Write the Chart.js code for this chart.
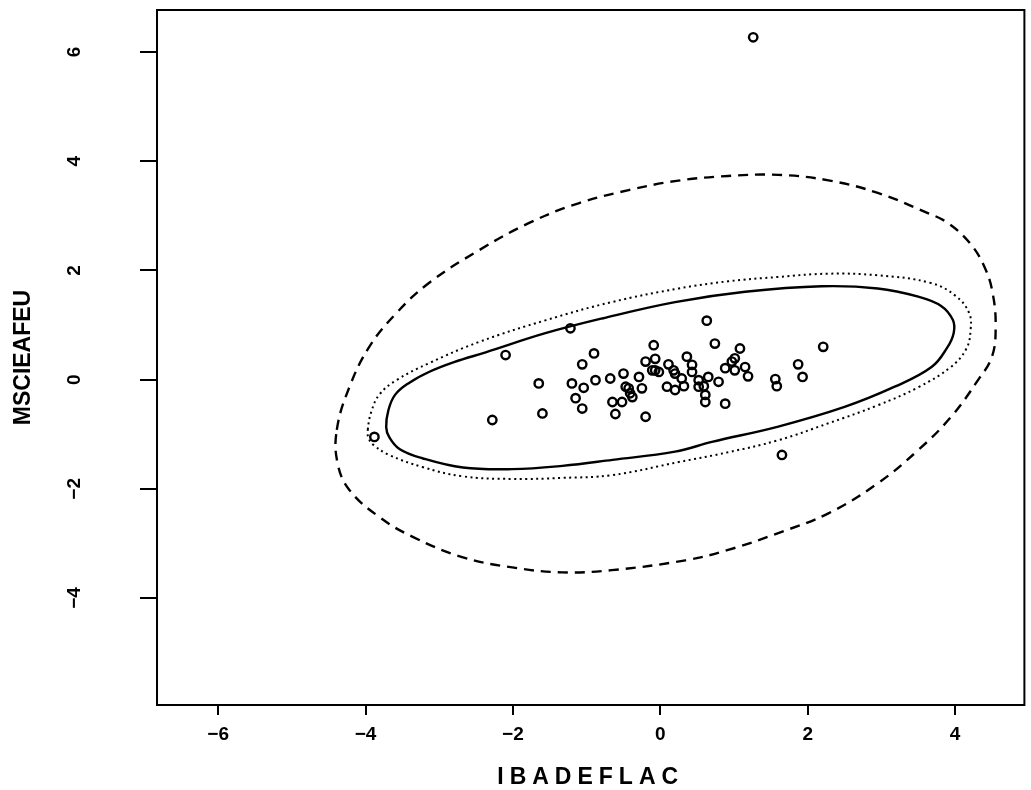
<!DOCTYPE html>
<html><head><meta charset="utf-8">
<script src="https://cdn.jsdelivr.net/npm/chart.js@4.4.1/dist/chart.umd.min.js"></script>
<style>html,body{margin:0;padding:0;background:#fff}#wrap{width:1031px;height:790px}</style>
</head><body><div id="wrap"><canvas id="c" width="1031" height="790"></canvas></div>
<script>
const xTickValues = [-6, -4, -2, 0, 2, 4];
const xTickLabels = ['\u22126', '\u22124', '\u22122', '0', '2', '4'];
const yTickValues = [-4, -2, 0, 2, 4, 6];
const yTickLabels = ['\u22124', '\u22122', '0', '2', '4', '6'];

const pointX = [-3.88,-2.28,-2.10,-1.22,-1.65,-1.60,-1.06,-0.90,-1.20,-1.04,-0.88,-1.15,-1.06,-0.68,-0.50,-0.65,-0.52,-0.61,-0.43,-0.25,-0.38,-0.41,-0.47,-0.20,-0.29,-0.09,-0.20,-0.07,-0.11,-0.02,0.11,0.09,0.20,0.20,0.63,0.74,1.08,1.01,0.97,0.88,1.01,1.15,1.19,0.79,0.88,0.61,0.61,0.59,0.52,0.65,0.36,0.43,0.43,0.18,0.29,0.32,0.52,-0.07,1.56,1.58,1.87,1.93,2.21,1.65,1.26];
const pointY = [-1.05,-0.74,0.45,0.94,-0.07,-0.62,0.28,0.48,-0.07,-0.15,-0.01,-0.34,-0.53,0.02,0.11,-0.41,-0.41,-0.63,-0.16,-0.16,-0.32,-0.25,-0.13,-0.68,0.05,0.63,0.33,0.38,0.17,0.14,0.28,-0.13,-0.19,0.11,1.08,0.66,0.57,0.39,0.33,0.21,0.17,0.23,0.06,-0.04,-0.44,-0.28,-0.41,-0.12,-0.01,0.05,0.42,0.27,0.14,0.17,0.02,-0.12,-0.13,0.17,0.01,-0.12,0.28,0.05,0.60,-1.38,6.27];

const solidX = [-3.72,-3.69,-3.60,-3.41,-3.14,-2.80,-2.37,-1.56,-0.79,0.20,1.15,2.19,2.95,3.50,3.81,3.97,3.98,3.89,3.68,3.18,2.50,1.60,0.70,0.20,-0.65,-1.33,-2.01,-2.68,-3.23,-3.54,-3.68];
const solidY = [-0.87,-0.56,-0.28,-0.06,0.14,0.32,0.50,0.85,1.12,1.42,1.61,1.71,1.67,1.52,1.35,1.09,0.85,0.58,0.23,-0.13,-0.50,-0.86,-1.14,-1.32,-1.47,-1.58,-1.64,-1.61,-1.44,-1.27,-1.05];

const dottedX = [-3.97,-3.92,-3.81,-3.58,-3.14,-2.46,-1.55,-0.66,0.25,0.92,1.60,2.28,2.95,3.67,4.01,4.19,4.21,4.15,3.94,3.50,2.95,2.28,1.60,0.92,0.25,-0.66,-1.33,-2.01,-2.69,-3.23,-3.68,-3.89,-3.96];
const dottedY = [-0.92,-0.58,-0.27,-0.01,0.30,0.69,1.09,1.42,1.67,1.80,1.88,1.94,1.91,1.77,1.53,1.22,0.91,0.56,0.23,-0.14,-0.47,-0.80,-1.11,-1.33,-1.51,-1.75,-1.80,-1.82,-1.77,-1.60,-1.38,-1.20,-1.07];

const dashedX = [-4.39,-4.22,-3.95,-3.58,-3.14,-2.46,-1.78,-1.11,-0.43,0.22,0.92,1.60,2.28,2.95,3.63,3.90,4.20,4.40,4.51,4.55,4.50,4.31,3.94,3.50,2.95,2.28,1.60,0.92,0.34,-0.66,-1.33,-2.01,-2.69,-3.36,-3.81,-4.22,-4.38];
const dashedY = [-0.92,-0.14,0.60,1.22,1.77,2.37,2.87,3.23,3.47,3.64,3.73,3.75,3.65,3.42,3.05,2.87,2.50,2.06,1.58,0.96,0.42,-0.01,-0.69,-1.29,-1.90,-2.45,-2.81,-3.12,-3.31,-3.49,-3.53,-3.44,-3.25,-2.88,-2.52,-2.02,-1.53];

const zip = (xs, ys) => xs.map((x, i) => ({x: x, y: ys[i]}));

const boxPlugin = {
  id: 'box',
  afterDatasetsUpdate(chart) {
    [1, 2, 3].forEach(i => {
      const line = chart.getDatasetMeta(i).dataset;
      if (line) { line._loop = true; line._fullLoop = true; line._pointsUpdated = false; }
    });
  },
  afterDraw(chart) {
    const {ctx, chartArea: a} = chart;
    ctx.save();
    ctx.strokeStyle = '#000';
    ctx.lineWidth = 2;
    ctx.strokeRect(a.left, a.top, a.right - a.left, a.bottom - a.top);
    ctx.restore();
  },
  beforeDraw(chart) {
    const xs = chart.scales.x;
    if (xs && !xs._spaced) {
      const orig = xs.drawTitle;
      xs.drawTitle = function () {
        this.ctx.save();
        this.ctx.letterSpacing = '6px';
        orig.call(this);
        this.ctx.restore();
      };
      xs._spaced = true;
    }
  }
};

const tickFont = {family: "'Liberation Sans', Arial, sans-serif", weight: 'bold', size: 19};

new Chart(document.getElementById('c'), {
  type: 'scatter',
  data: {
    datasets: [
      {data: zip(pointX, pointY), pointStyle: 'circle', pointRadius: 4.2, borderWidth: 2.4,
       borderColor: '#000', backgroundColor: 'rgba(0,0,0,0)', showLine: false, order: 0},
      {data: zip(solidX, solidY), showLine: true, pointRadius: 0, borderColor: '#000',
       borderWidth: 2.4, tension: 0.4, fill: false},
      {data: zip(dottedX, dottedY), showLine: true, pointRadius: 0, borderColor: '#000',
       borderWidth: 2, borderDash: [2, 3.5], tension: 0.4, fill: false},
      {data: zip(dashedX, dashedY), showLine: true, pointRadius: 0, borderColor: '#000',
       borderWidth: 2.4, borderDash: [10, 7], tension: 0.4, fill: false}
    ]
  },
  options: {
    responsive: false,
    animation: false,
    devicePixelRatio: 1,
    layout: {padding: {left: 0, top: 10, right: 4, bottom: 0}},
    plugins: {legend: {display: false}, tooltip: {enabled: false}},
    scales: {
      x: {
        type: 'linear', min: -6.83, max: 4.94,
        afterBuildTicks: s => { s.ticks = xTickValues.map(v => ({value: v})); },
        afterFit: s => { s.height = 85; s.paddingLeft = 0; s.paddingRight = 0; },
        grid: {display: true, drawOnChartArea: false, drawTicks: true, tickLength: 10, color: '#000', lineWidth: 2},
        border: {display: true, color: '#000', width: 2},
        ticks: {color: '#000', font: tickFont, padding: 8, autoSkip: false, maxRotation: 0, minRotation: 0,
                callback: v => xTickLabels[xTickValues.indexOf(v)]},
        title: {display: true, text: 'IBADEFLAC', color: '#000',
                font: {family: "'Liberation Sans', Arial, sans-serif", weight: 'bold', size: 23, lineHeight: 1},
                padding: {top: 0, bottom: 1}}
      },
      y: {
        type: 'linear', min: -5.96, max: 6.77,
        afterBuildTicks: s => { s.ticks = yTickValues.map(v => ({value: v})); },
        afterFit: s => { s.width = 157; s.paddingTop = 0; s.paddingBottom = 0; },
        grid: {display: true, drawOnChartArea: false, drawTicks: true, tickLength: 17, color: '#000', lineWidth: 2},
        border: {display: true, color: '#000', width: 2},
        ticks: {color: '#000', font: tickFont, padding: 54, autoSkip: false, minRotation: 90, maxRotation: 90,
                crossAlign: 'center',
                callback: v => yTickLabels[yTickValues.indexOf(v)]},
        title: {display: true, text: 'MSCIEAFEU', color: '#000',
                font: {family: "'Liberation Sans Narrow', 'Liberation Sans', Arial, sans-serif", weight: 'bold', size: 23, lineHeight: 1},
                padding: {top: 12, bottom: 0}}
      }
    }
  },
  plugins: [boxPlugin]
});
</script>
</body></html>
